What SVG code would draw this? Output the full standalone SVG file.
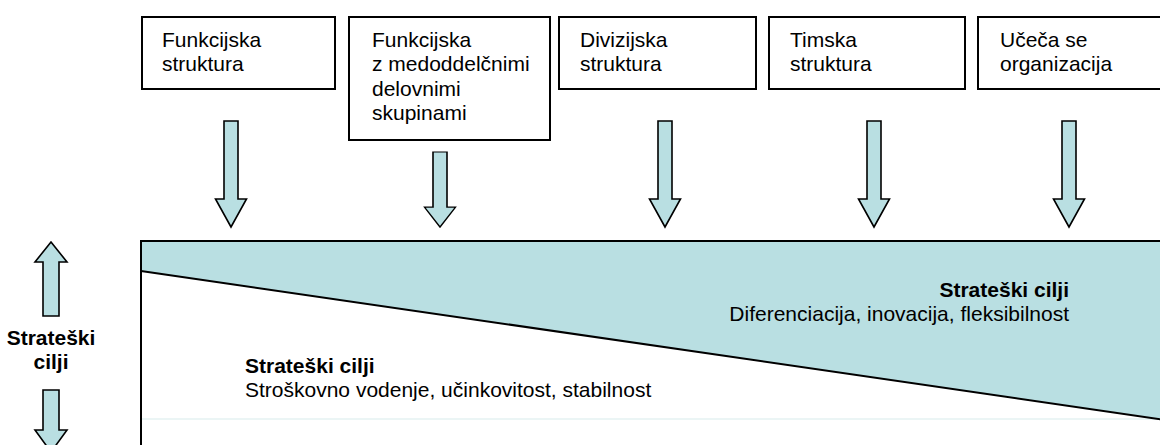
<svg xmlns="http://www.w3.org/2000/svg" width="1160" height="445" viewBox="0 0 1160 445">
  <defs>
    <style>
      .box { fill: #ffffff; stroke: #000000; stroke-width: 2; }
      .arrow { fill: #B9DFE2; stroke: #000000; stroke-width: 1.6; stroke-linejoin: miter; }
      .lbl { font-family: "Liberation Sans", Arial, sans-serif; font-size: 21px; fill: #000000; }
      .bold { font-weight: bold; }
      .edge { fill: none; stroke: #000000; stroke-width: 2; }
    </style>
    <!-- down arrow centred on x=0, shaft top at y=0, tip at y=106 -->
    <path id="downArrow" d="M -7 0 L 7 0 L 7 78 L 15.5 78 L 0 106 L -15.5 78 L -7 78 Z"/>
  </defs>

  <rect width="1160" height="445" fill="#ffffff"/>

  <!-- strategic goals band -->
  <g id="band">
    <polygon points="141,241 1162,241 1162,419 141,271" fill="#B9DFE2"/>
    <line x1="141" y1="419" x2="1160" y2="419" stroke="#E4F2F2" stroke-width="1.5"/>
    <line x1="141" y1="271" x2="1162" y2="419.5" class="edge"/>
    <polyline points="1162,241 141,241 141,446" class="edge"/>
  </g>

  <!-- structure boxes -->
  <g id="box-funkcijska">
    <rect x="142" y="17" width="193" height="72" class="box"/>
    <text class="lbl" x="162" y="47">Funkcijska</text>
    <text class="lbl" x="162" y="71">struktura</text>
  </g>
  <g id="box-medoddelcne">
    <rect x="349" y="17" width="201" height="123" class="box"/>
    <text class="lbl" x="372" y="47">Funkcijska</text>
    <text class="lbl" x="372" y="71">z medoddelčnimi</text>
    <text class="lbl" x="372" y="96">delovnimi</text>
    <text class="lbl" x="372" y="120">skupinami</text>
  </g>
  <g id="box-divizijska">
    <rect x="559" y="17" width="197" height="72" class="box"/>
    <text class="lbl" x="580" y="47">Divizijska</text>
    <text class="lbl" x="580" y="71">struktura</text>
  </g>
  <g id="box-timska">
    <rect x="769" y="17" width="196" height="72" class="box"/>
    <text class="lbl" x="790" y="47">Timska</text>
    <text class="lbl" x="790" y="71">struktura</text>
  </g>
  <g id="box-uceca">
    <rect x="978" y="17" width="200" height="72" class="box"/>
    <text class="lbl" x="1000" y="47">Učeča se</text>
    <text class="lbl" x="1000" y="71">organizacija</text>
  </g>

  <!-- connectors: block arrows into the band -->
  <g id="connectors">
    <use href="#downArrow" class="arrow" transform="translate(231,121)"/>
    <use href="#downArrow" class="arrow" transform="translate(440,152) scale(1,0.7075)"/>
    <use href="#downArrow" class="arrow" transform="translate(665,121)"/>
    <use href="#downArrow" class="arrow" transform="translate(874,121)"/>
    <use href="#downArrow" class="arrow" transform="translate(1069,121)"/>
    <!-- vertical axis arrows -->
    <path class="arrow" d="M 51 242 L 67 262 L 59 262 L 59 316 L 43 316 L 43 262 L 35 262 Z"/>
    <path class="arrow" d="M 43 390 L 59 390 L 59 430 L 67 430 L 51 452 L 35 430 L 43 430 Z"/>
  </g>

  <!-- axis label -->
  <g id="axis-label">
    <text class="lbl bold" x="51" y="345" text-anchor="middle" font-size="19">Strateški</text>
    <text class="lbl bold" x="51" y="369" text-anchor="middle" font-size="19">cilji</text>
  </g>

  <!-- goal texts -->
  <g id="goals-upper">
    <text class="lbl bold" x="1069" y="297" text-anchor="end">Strateški cilji</text>
    <text class="lbl" x="1069" y="321" text-anchor="end">Diferenciacija, inovacija, fleksibilnost</text>
  </g>
  <g id="goals-lower">
    <text class="lbl bold" x="245" y="373">Strateški cilji</text>
    <text class="lbl" x="245" y="397">Stroškovno vodenje, učinkovitost, stabilnost</text>
  </g>
</svg>
